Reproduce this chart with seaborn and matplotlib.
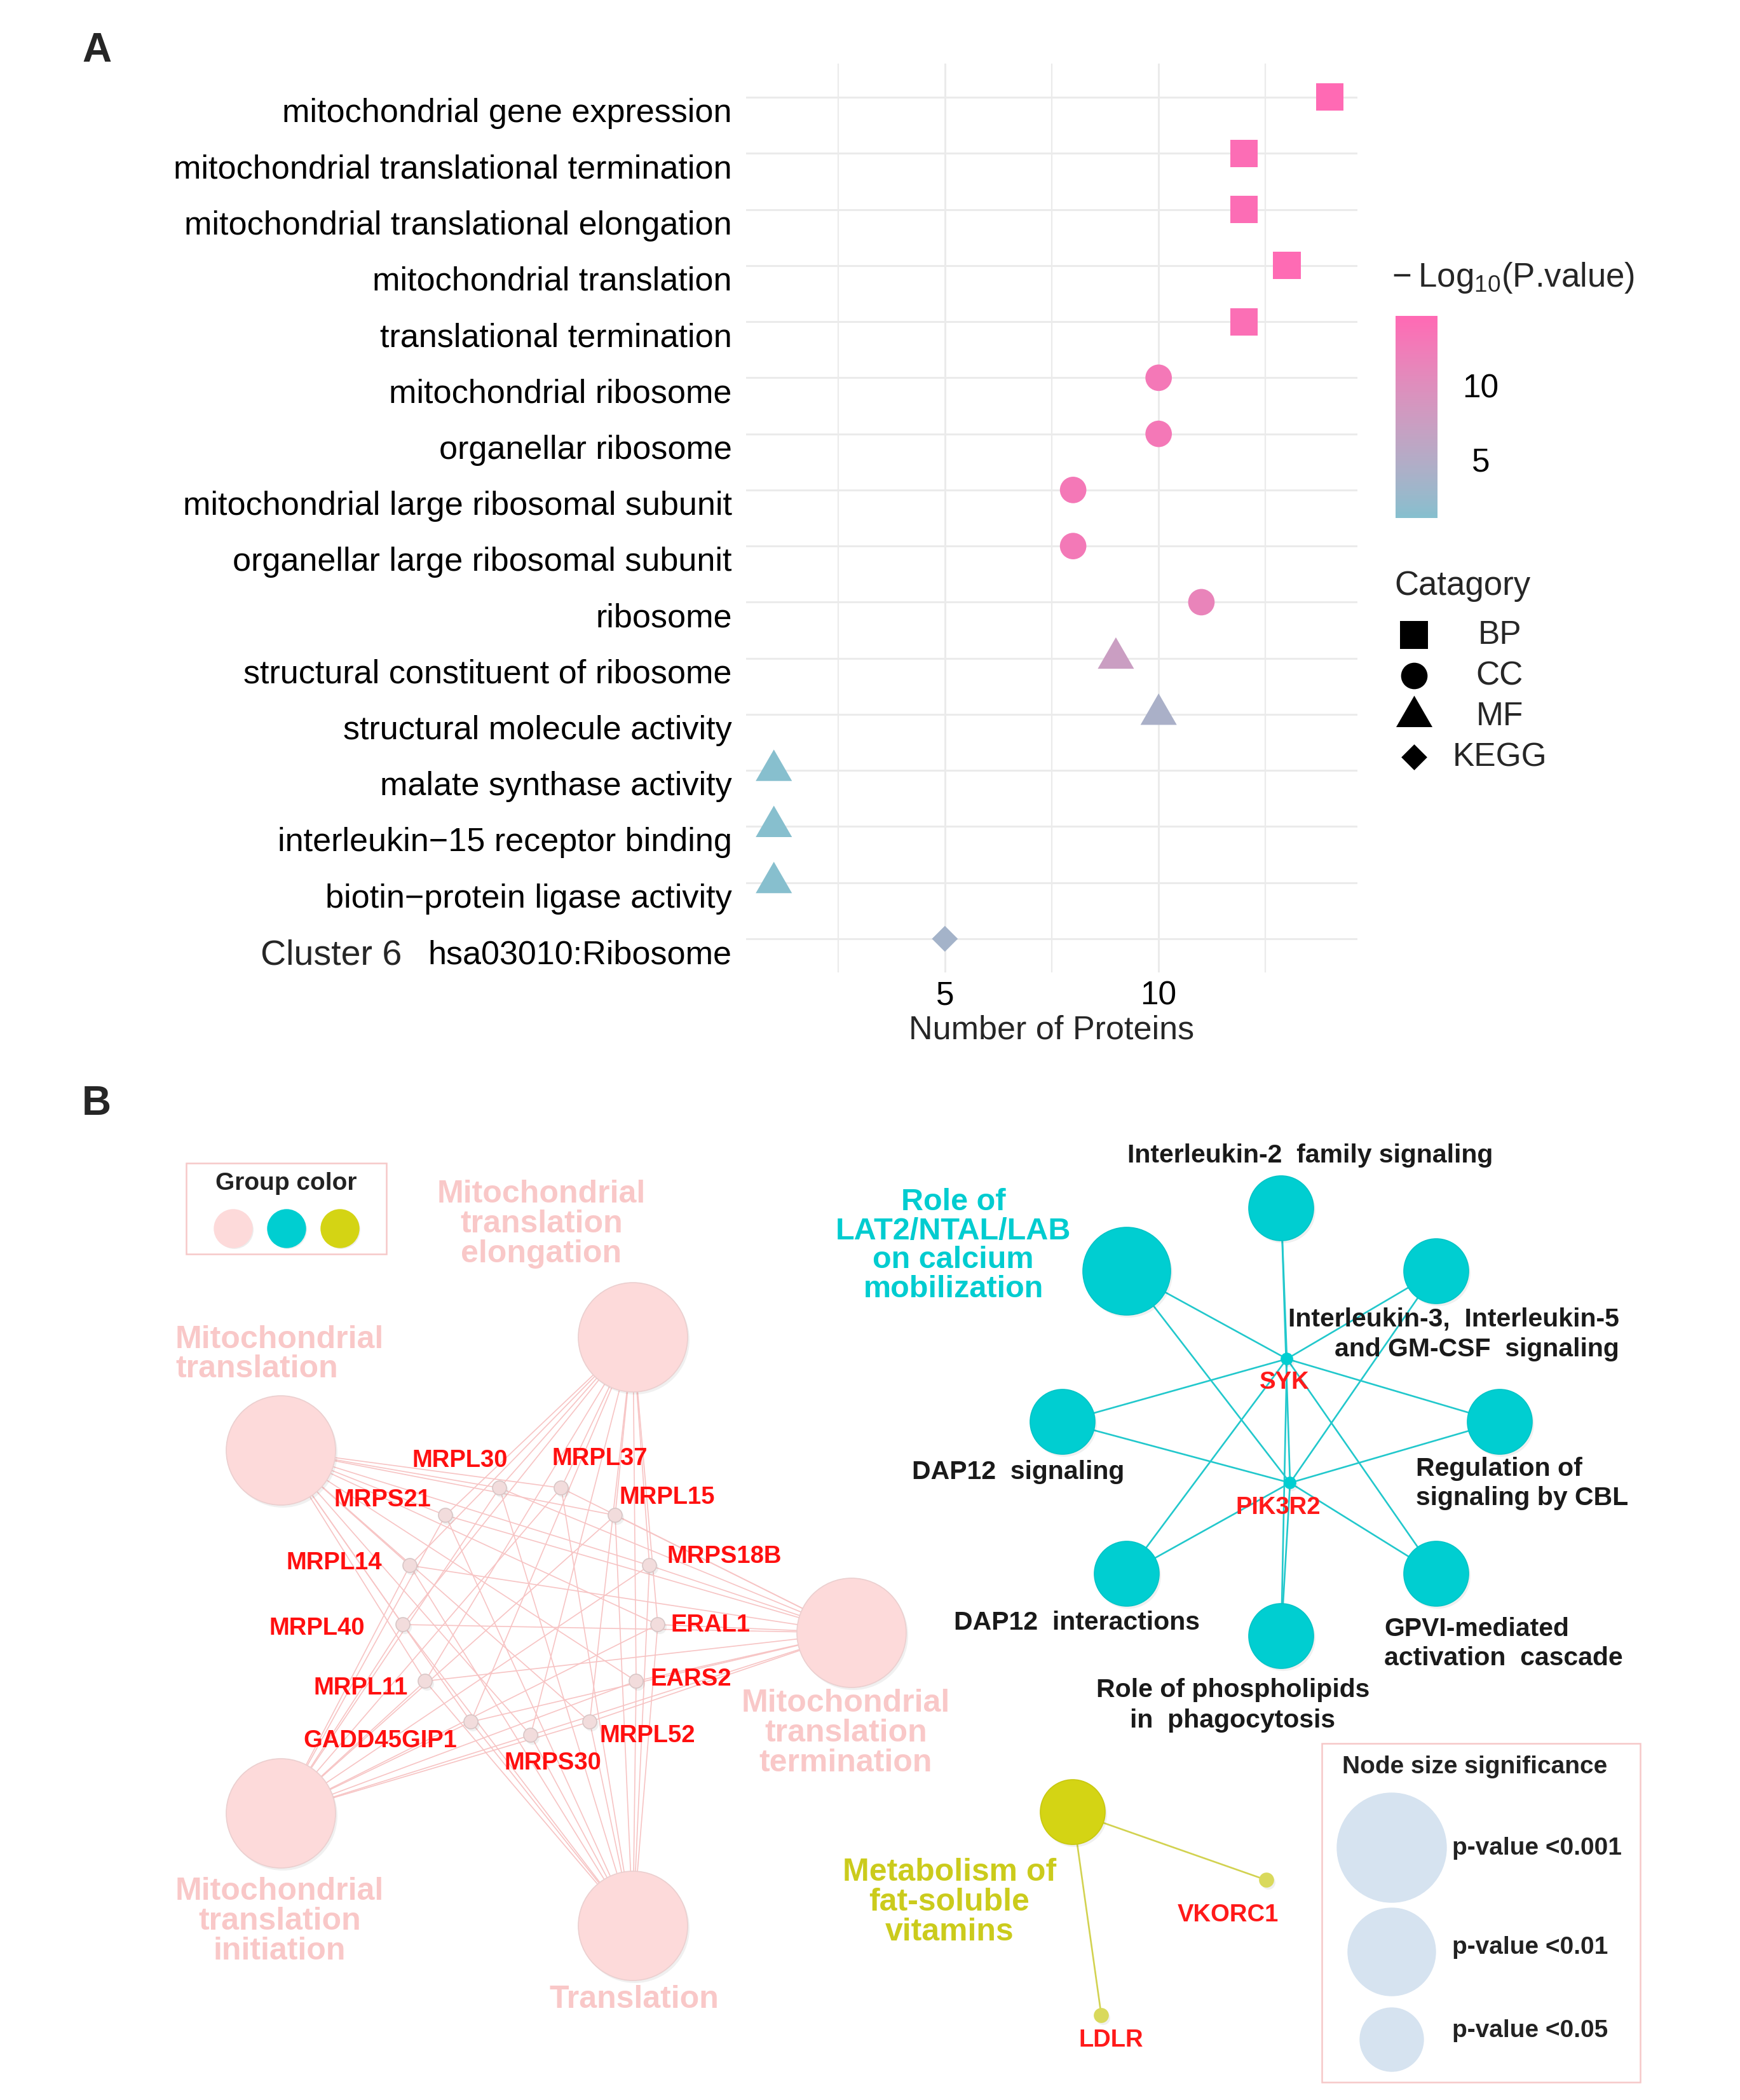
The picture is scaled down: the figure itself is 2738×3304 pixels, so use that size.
import numpy as np
import pandas as pd
import seaborn as sns
import matplotlib.pyplot as plt
import matplotlib.transforms as mtransforms
from matplotlib.colors import ListedColormap, Normalize, to_rgb
from matplotlib.cm import ScalarMappable
from matplotlib.patches import Circle, Rectangle

W, H = 2738, 3305
DPI = 100

# ---------------- panel A data ----------------
TERMS = [
    "mitochondrial gene expression",
    "mitochondrial translational termination",
    "mitochondrial translational elongation",
    "mitochondrial translation",
    "translational termination",
    "mitochondrial ribosome",
    "organellar ribosome",
    "mitochondrial large ribosomal subunit",
    "organellar large ribosomal subunit",
    "ribosome",
    "structural constituent of ribosome",
    "structural molecule activity",
    "malate synthase activity",
    "interleukin\u221215 receptor binding",
    "biotin\u2212protein ligase activity",
    "hsa03010:Ribosome",
]
N_PROTEINS = [14, 12, 12, 13, 12, 10, 10, 8, 8, 11, 9, 10, 1, 1, 1, 5]
NEG_LOG_P = [14.6, 14.2, 14.2, 14.4, 14.0, 13.0, 13.0, 12.9, 12.8, 11.4, 7.4, 4.0, 1.1, 1.1, 1.1, 3.5]
CATEGORY = ["BP"] * 5 + ["CC"] * 5 + ["MF"] * 5 + ["KEGG"]
CAT_ORDER = ["BP", "CC", "MF", "KEGG"]
CLUSTER_NAME = "Cluster 6"

# ---------------- panel B data ----------------
PINK_TERMS = ["Mitochondrial\ntranslation\nelongation", "Mitochondrial\ntranslation",
              "Mitochondrial\ntranslation\ntermination", "Mitochondrial\ntranslation\ninitiation",
              "Translation"]
PINK_GENES = ["MRPL30", "MRPL37", "MRPS21", "MRPL15", "MRPL14", "MRPS18B", "MRPL40",
              "ERAL1", "MRPL11", "EARS2", "GADD45GIP1", "MRPS30", "MRPL52"]
TEAL_TERMS = ["Role of\nLAT2/NTAL/LAB\non calcium\nmobilization", "Interleukin-2  family signaling",
              "Interleukin-3,  Interleukin-5\nand GM-CSF  signaling", "DAP12  signaling",
              "Regulation of\nsignaling by CBL", "DAP12  interactions",
              "Role of phospholipids\nin  phagocytosis", "GPVI-mediated\nactivation  cascade"]
TEAL_GENES = ["SYK", "PIK3R2"]
YELLOW_TERMS = ["Metabolism of\nfat-soluble\nvitamins"]
YELLOW_GENES = ["VKORC1", "LDLR"]
TERM_PVAL_CLASS = {t: "<0.001" for t in PINK_TERMS}
TERM_PVAL_CLASS.update({t: "<0.05" for t in TEAL_TERMS})
TERM_PVAL_CLASS[TEAL_TERMS[0]] = "<0.01"
TERM_PVAL_CLASS[YELLOW_TERMS[0]] = "<0.05"
PVAL_CLASSES = ["<0.001", "<0.01", "<0.05"]

# network layout (pixel positions on the page)
NODE_POS = {
    PINK_TERMS[0]: (996, 2105), PINK_TERMS[1]: (442, 2283), PINK_TERMS[2]: (1340, 2570),
    PINK_TERMS[3]: (442, 2854), PINK_TERMS[4]: (996, 3031),
    "MRPL30": (786, 2342), "MRPL37": (883, 2342), "MRPS21": (701, 2385), "MRPL15": (968, 2385),
    "MRPL14": (645, 2464), "MRPS18B": (1022, 2464), "MRPL40": (634, 2557), "ERAL1": (1035, 2557),
    "MRPL11": (669, 2646), "EARS2": (1001, 2646), "GADD45GIP1": (741, 2710),
    "MRPS30": (835, 2731), "MRPL52": (928, 2710),
    TEAL_TERMS[0]: (1773, 2001), TEAL_TERMS[1]: (2016, 1902), TEAL_TERMS[2]: (2260, 2001),
    TEAL_TERMS[3]: (1672, 2238), TEAL_TERMS[4]: (2360, 2238), TEAL_TERMS[5]: (1773, 2477),
    TEAL_TERMS[6]: (2016, 2575), TEAL_TERMS[7]: (2260, 2477),
    "SYK": (2025, 2139), "PIK3R2": (2030, 2334),
    YELLOW_TERMS[0]: (1688, 2852), "VKORC1": (1993, 2959), "LDLR": (1733, 3172),
}
LABEL_POS = {
    PINK_TERMS[0]: (852, 1926, "center"), PINK_TERMS[1]: (276, 2131, "left"),
    PINK_TERMS[2]: (1331, 2727, "center"), PINK_TERMS[3]: (440, 3023, "center"),
    PINK_TERMS[4]: (998, 3146, "center"),
    "MRPL30": (724, 2298, "center"), "MRPL37": (944, 2295, "center"),
    "MRPS21": (602, 2360, "center"), "MRPL15": (1050, 2356, "center"),
    "MRPL14": (526, 2459, "center"), "MRPS18B": (1140, 2449, "center"),
    "MRPL40": (499, 2562, "center"), "ERAL1": (1118, 2557, "center"),
    "MRPL11": (568, 2656, "center"), "EARS2": (1087, 2642, "center"),
    "GADD45GIP1": (598, 2739, "center"), "MRPS30": (870, 2774, "center"),
    "MRPL52": (1019, 2731, "center"),
    TEAL_TERMS[0]: (1500, 1960, "center"), TEAL_TERMS[1]: (2062, 1818, "center"),
    TEAL_TERMS[2]: (2548, 2099, "right"), TEAL_TERMS[3]: (1602, 2316, "center"),
    TEAL_TERMS[4]: (2228, 2334, "left"), TEAL_TERMS[5]: (1694, 2553, "center"),
    TEAL_TERMS[6]: (1940, 2683, "center"), TEAL_TERMS[7]: (2178, 2586, "left"),
    "SYK": (2021, 2175, "center"), "PIK3R2": (2011, 2372, "center"),
    YELLOW_TERMS[0]: (1494, 2993, "center"), "VKORC1": (1932, 3013, "center"),
    "LDLR": (1748, 3210, "center"),
}

# ---------------- styling ----------------
LOW_COL, HIGH_COL = "#86BFCE", "#FF69B4"
MARKER_TRI = [(0, 0.577), (-0.5, -0.289), (0.5, -0.289)]
MARKERS = {"BP": "s", "CC": "o", "MF": MARKER_TRI, "KEGG": "D"}
SIZES = {"BP": 960, "CC": 900, "MF": 2250, "KEGG": 430}
GRID_COL = "#EBEBEB"
PINK, PINK_TXT, PINK_EDGE = "#FDDADA", "#F9C8C8", "#F7C4C4"
TEAL, TEAL_TXT = "#00CED1", "#00CCD0"
YEL, YEL_TXT, YEL_SMALL = "#D4D414", "#CBCB1C", "#D9D95C"
RADIUS = {"<0.001": 86, "<0.01": 69, "<0.05": 51}
FONT = "Liberation Sans"
LABEL_DROP = 19 / DPI  # tick labels sit a little below their grid line


def _to_lab(rgb):
    c = np.asarray(rgb, float)
    c = np.where(c <= 0.04045, c / 12.92, ((c + 0.055) / 1.055) ** 2.4)
    m = np.array([[0.4124, 0.3576, 0.1805], [0.2126, 0.7152, 0.0722], [0.0193, 0.1192, 0.9505]])
    xyz = m @ c / np.array([0.95047, 1.0, 1.08883])
    f = np.where(xyz > 0.008856, np.cbrt(xyz), 7.787 * xyz + 16 / 116)
    return np.array([116 * f[1] - 16, 500 * (f[0] - f[1]), 200 * (f[1] - f[2])])


def _from_lab(lab):
    fy_ = (lab[0] + 16) / 116
    f = np.array([fy_ + lab[1] / 500, fy_, fy_ - lab[2] / 200])
    xyz = np.where(f ** 3 > 0.008856, f ** 3, (f - 16 / 116) / 7.787) * np.array([0.95047, 1.0, 1.08883])
    m = np.array([[3.2406, -1.5372, -0.4986], [-0.9689, 1.8758, 0.0415], [0.0557, -0.2040, 1.0570]])
    c = m @ xyz
    c = np.where(c <= 0.0031308, 12.92 * c, 1.055 * np.clip(c, 0, None) ** (1 / 2.4) - 0.055)
    return np.clip(c, 0, 1)


def lab_gradient(low, high, n=256):
    a, b = _to_lab(to_rgb(low)), _to_lab(to_rgb(high))
    return ListedColormap([_from_lab(a + (b - a) * t) for t in np.linspace(0, 1, n)])


sns.set_theme(style="white")
plt.rcParams["font.family"] = [FONT, "DejaVu Sans"]
plt.rcParams["mathtext.fontset"] = "custom"
plt.rcParams["mathtext.rm"] = FONT

fig = plt.figure(figsize=(W / DPI, H / DPI), dpi=DPI)


def fx(px):
    return px / W


def fy(py):
    return 1 - py / H


# ================= panel A =================
ax = fig.add_axes([fx(1174), fy(1531), fx(2136 - 1174), (1531 - 101) / H])
df = pd.DataFrame({"term": TERMS, "count": N_PROTEINS, "logp": NEG_LOG_P, "category": CATEGORY})
cmap = lab_gradient(LOW_COL, HIGH_COL)
norm = Normalize(vmin=1.0, vmax=14.66)

for v in [2.5, 7.5, 12.5]:
    ax.axvline(v, color=GRID_COL, lw=1.6, zorder=0)
for v in [5, 10]:
    ax.axvline(v, color=GRID_COL, lw=2.2, zorder=0)
for i in range(len(TERMS)):
    ax.axhline(i, color=GRID_COL, lw=2.2, zorder=0)

sns.scatterplot(data=df, x="count", y="term", hue="logp", palette=cmap, hue_norm=norm,
                style="category", style_order=CAT_ORDER, markers=MARKERS,
                size="category", sizes=SIZES, linewidth=0, legend=False, ax=ax, zorder=3)
ax.set_xlim(0.35, 14.65)
ax.set_xticks([5, 10])
ax.grid(False)
for s in ax.spines.values():
    s.set_visible(False)
ax.tick_params(axis="both", length=0, labelsize=37.5, colors="black")
ax.tick_params(axis="y", pad=16)
ax.tick_params(axis="x", pad=8, labelsize=37)
ax.set_ylabel("")
ax.set_xlabel("Number of Proteins", fontsize=37.5, labelpad=4)
ax.set_ylim(len(TERMS) - 0.4, -0.6)
drop = mtransforms.ScaledTranslation(0, -LABEL_DROP, fig.dpi_scale_trans)
for t in ax.get_yticklabels():
    t.set_transform(t.get_transform() + drop)

blend = mtransforms.blended_transform_factory(fig.transFigure, ax.transData)
ax.text(fx(632), len(TERMS) - 1, CLUSTER_NAME, transform=blend + drop, ha="right",
        va="center_baseline", fontsize=40)

# colour bar
cax = fig.add_axes([fx(2196), fy(816), fx(66), (816 - 498) / H])
cb = fig.colorbar(ScalarMappable(norm=norm, cmap=cmap), cax=cax)
cb.outline.set_visible(False)
cb.set_ticks([5, 10])
cax.tick_params(axis="y", direction="in", left=True, right=True, length=13, width=1.5,
                colors="#F2F2F2", labelcolor="black", labelsize=37, pad=49)
for t in cax.get_yticklabels():
    t.set_horizontalalignment("center")
fig.text(fx(2190), fy(437), "\u2212\u2009Log$\\mathregular{_{10}}$(P.value)", fontsize=38,
         ha="left", va="center")

# shape legend
fig.text(fx(2194), fy(922), "Catagory", fontsize=38, ha="left", va="center")
leg = fig.add_axes([fx(2180), fy(1230), fx(300), 270 / H])
leg.set_xlim(2180, 2480)
leg.set_ylim(1230, 960)
leg.axis("off")
for i, cat in enumerate(CAT_ORDER):
    yy = 1000 + i * 64
    leg.scatter([2225], [yy], marker=MARKERS[cat], s=SIZES[cat], color="black", linewidths=0)
    leg.text(2360, yy, cat, fontsize=37, ha="center", va="center")

fig.text(fx(152), fy(80), "A", fontsize=46, fontweight="bold", ha="center", va="center")
fig.text(fx(152), fy(1737), "B", fontsize=46, fontweight="bold", ha="center", va="center")

# ================= panel B =================
ov = fig.add_axes([0, 0, 1, 1])
ov.set_xlim(0, W)
ov.set_ylim(H, 0)
ov.axis("off")


def edge(a, b, color, lw):
    (x0, y0), (x1, y1) = NODE_POS[a], NODE_POS[b]
    ov.plot([x0, x1], [y0, y1], color=color, lw=lw, zorder=1, solid_capstyle="butt")


def node(name, r, color, ec):
    x, y = NODE_POS[name]
    ov.add_patch(Circle((x + 3, y + 4), r, color="#000000", alpha=0.06, zorder=2, lw=0))
    ov.add_patch(Circle((x, y), r, facecolor=color, edgecolor=ec, lw=1.2, zorder=3))


def label(name, color, size, bold=True, ls=1.02):
    x, y, ha = LABEL_POS[name]
    ov.text(x, y, name, color=color, fontsize=size, ha=ha, va="center", multialignment=ha,
            fontweight="bold" if bold else "normal", linespacing=ls, zorder=5)


for t in PINK_TERMS:
    for g in PINK_GENES:
        edge(t, g, PINK_EDGE, 1.2)
for t in TEAL_TERMS:
    for g in TEAL_GENES:
        edge(t, g, "#22C8CC", 1.9)
for g in YELLOW_GENES:
    edge(YELLOW_TERMS[0], g, "#D2D250", 1.9)

for t in PINK_TERMS:
    node(t, RADIUS[TERM_PVAL_CLASS[t]], PINK, "#EBCFCF")
    label(t, PINK_TXT, 36)
for g in PINK_GENES:
    node(g, 11, "#F2DCDC", "#D8C6C6")
    label(g, "#FF1010", 27.5)
for t in TEAL_TERMS:
    node(t, RADIUS[TERM_PVAL_CLASS[t]], TEAL, "#00C4C7")
    if t == TEAL_TERMS[0]:
        label(t, TEAL_TXT, 35)
    else:
        label(t, "#1A1A1A", 29.5, ls=1.3)
for g in TEAL_GENES:
    node(g, 9, TEAL, TEAL)
    label(g, "#FF1A1A", 27.5)
for t in YELLOW_TERMS:
    node(t, RADIUS[TERM_PVAL_CLASS[t]], YEL, "#C8C810")
    label(t, YEL_TXT, 36)
for g in YELLOW_GENES:
    node(g, 11, YEL_SMALL, YEL_SMALL)
    label(g, "#FF1A1A", 27.5)

# group colour legend
ov.add_patch(Rectangle((293, 1831), 315, 143, fill=False, edgecolor="#F6C8C8", lw=1.8, zorder=4))
ov.text(450, 1862, "Group color", fontsize=28, fontweight="bold", ha="center", va="center",
        color="#222222")
for xx, col in zip([367, 451, 535], [PINK, TEAL, YEL]):
    ov.add_patch(Circle((xx + 2, 1936), 30, color="#000000", alpha=0.07, lw=0, zorder=4))
    ov.add_patch(Circle((xx, 1934), 30, color=col, zorder=5))

# node size legend
ov.add_patch(Rectangle((2080, 2744), 501, 533, fill=False, edgecolor="#F6C8C8", lw=1.8, zorder=4))
ov.text(2321, 2780, "Node size significance", fontsize=28, fontweight="bold", ha="center",
        va="center", color="#222222")
for yy, ty, cls in zip([2908, 3072, 3210], [2908, 3064, 3195], PVAL_CLASSES):
    ov.add_patch(Circle((2190, yy), RADIUS[cls] if cls != "<0.05" else 50, color="#D6E3F0",
                        zorder=5))
    ov.text(2285, ty, "p-value " + cls, fontsize=28, fontweight="bold", ha="left", va="center",
            color="#222222")

fig.savefig("out.png", dpi=DPI)
